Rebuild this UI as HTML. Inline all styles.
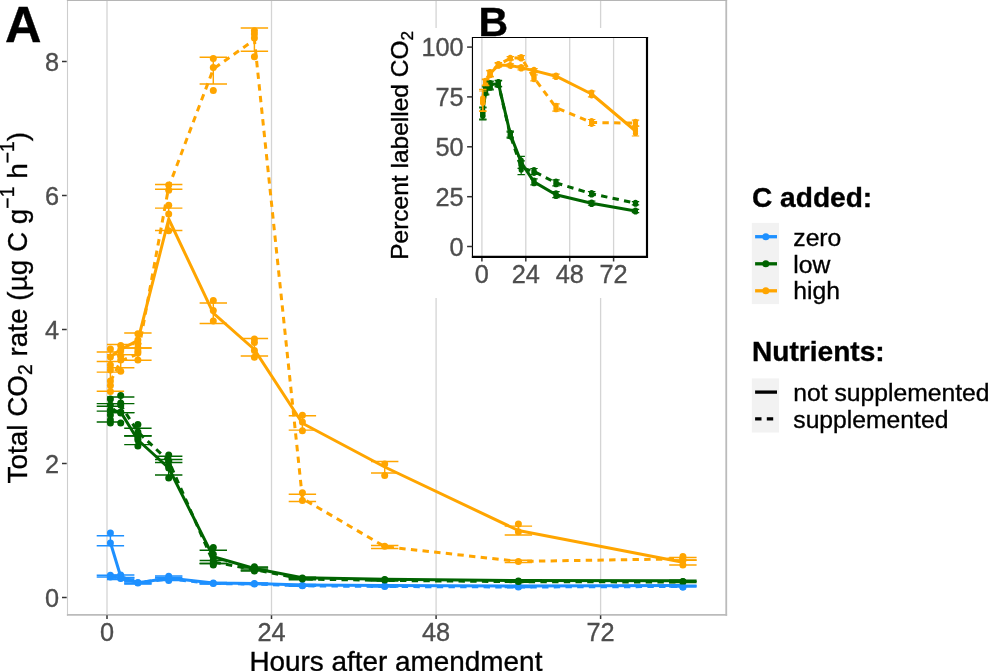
<!DOCTYPE html>
<html><head><meta charset="utf-8"><title>Figure</title>
<style>
html,body{margin:0;padding:0;background:#fff;}
body{width:989px;height:671px;overflow:hidden;}
svg{display:block;font-family:"Liberation Sans",sans-serif;will-change:transform;}
text{stroke-width:0.35px;paint-order:stroke;}
text.k{stroke:#000;}
text.g{stroke:#4d4d4d;}
</style></head><body>
<svg width="989" height="671" viewBox="0 0 989 671">
<rect width="989" height="671" fill="#fff"/>
<line x1="107.0" x2="107.0" y1="0.6" y2="614.7" stroke="#d4d4d4" stroke-width="1.3"/>
<line x1="271.5" x2="271.5" y1="0.6" y2="614.7" stroke="#d4d4d4" stroke-width="1.3"/>
<line x1="436.1" x2="436.1" y1="0.6" y2="614.7" stroke="#d4d4d4" stroke-width="1.3"/>
<line x1="600.6" x2="600.6" y1="0.6" y2="614.7" stroke="#d4d4d4" stroke-width="1.3"/>
<path d="M110.4 542.5 L120.7 576.5 L137.9 583.1 L168.7 578.0 L213.3 583.1 L254.4 583.6 L302.4 584.9 L384.7 585.6 L518.4 586.1 L682.9 585.6" fill="none" stroke="#1E90FF" stroke-width="3.00" stroke-linejoin="round"/>
<path d="M110.4 576.0 L120.7 578.5 L137.9 582.5 L168.7 579.0 L213.3 583.5 L254.4 584.0 L302.4 585.8 L384.7 586.5 L518.4 587.0 L682.9 586.5" fill="none" stroke="#1E90FF" stroke-width="3.00" stroke-linejoin="round" stroke-dasharray="6.4 5.3" stroke-dashoffset="0.00"/>
<path d="M110.4 410.0 L120.7 412.0 L137.9 440.0 L168.7 468.0 L213.3 556.8 L254.4 568.5 L302.4 577.8 L384.7 579.2 L518.4 580.5 L682.9 580.7" fill="none" stroke="#006400" stroke-width="3.00" stroke-linejoin="round"/>
<path d="M110.4 413.0 L120.7 405.0 L137.9 432.0 L168.7 461.0 L213.3 562.0 L254.4 569.5 L302.4 579.0 L384.7 580.4 L518.4 581.7 L682.9 582.0" fill="none" stroke="#006400" stroke-width="3.00" stroke-linejoin="round" stroke-dasharray="6.4 5.3" stroke-dashoffset="0.00"/>
<path d="M110.4 356.7 L120.7 349.5 L137.9 340.4 L168.7 219.0 L213.3 313.1 L254.4 349.5 L302.4 423.3 L384.7 467.0 L518.4 530.5 L682.9 562.2" fill="none" stroke="#FFA500" stroke-width="3.00" stroke-linejoin="round"/>
<path d="M110.4 381.7 L120.7 361.0 L137.9 354.0 L168.7 187.0 L213.3 69.0 L254.4 39.7 L302.4 498.5 L384.7 546.6 L518.4 561.4 L682.9 558.8" fill="none" stroke="#FFA500" stroke-width="3.00" stroke-linejoin="round" stroke-dasharray="6.4 5.3" stroke-dashoffset="0.00"/>
<circle cx="110.4" cy="533.1" r="3.5" fill="#1E90FF"/>
<circle cx="110.4" cy="543.1" r="3.5" fill="#1E90FF"/>
<circle cx="120.7" cy="575.0" r="3.5" fill="#1E90FF"/>
<circle cx="120.7" cy="578.0" r="3.5" fill="#1E90FF"/>
<circle cx="137.9" cy="583.0" r="3.5" fill="#1E90FF"/>
<circle cx="168.7" cy="576.3" r="3.5" fill="#1E90FF"/>
<circle cx="168.7" cy="579.0" r="3.5" fill="#1E90FF"/>
<circle cx="213.3" cy="583.1" r="3.5" fill="#1E90FF"/>
<circle cx="254.4" cy="583.6" r="3.5" fill="#1E90FF"/>
<circle cx="302.4" cy="585.4" r="3.5" fill="#1E90FF"/>
<circle cx="384.7" cy="586.0" r="3.5" fill="#1E90FF"/>
<circle cx="518.4" cy="586.5" r="3.5" fill="#1E90FF"/>
<circle cx="682.9" cy="587.0" r="3.5" fill="#1E90FF"/>
<circle cx="110.4" cy="575.2" r="3.5" fill="#1E90FF"/>
<circle cx="110.4" cy="577.0" r="3.5" fill="#1E90FF"/>
<circle cx="120.7" cy="578.5" r="3.5" fill="#1E90FF"/>
<circle cx="137.9" cy="582.5" r="3.5" fill="#1E90FF"/>
<circle cx="168.7" cy="580.5" r="3.5" fill="#1E90FF"/>
<circle cx="213.3" cy="583.5" r="3.5" fill="#1E90FF"/>
<circle cx="254.4" cy="584.0" r="3.5" fill="#1E90FF"/>
<circle cx="302.4" cy="585.8" r="3.5" fill="#1E90FF"/>
<circle cx="384.7" cy="586.5" r="3.5" fill="#1E90FF"/>
<circle cx="518.4" cy="587.0" r="3.5" fill="#1E90FF"/>
<circle cx="682.9" cy="587.0" r="3.5" fill="#1E90FF"/>
<circle cx="110.4" cy="399.0" r="3.5" fill="#006400"/>
<circle cx="110.4" cy="410.0" r="3.5" fill="#006400"/>
<circle cx="110.4" cy="420.0" r="3.5" fill="#006400"/>
<circle cx="120.7" cy="403.0" r="3.5" fill="#006400"/>
<circle cx="120.7" cy="412.0" r="3.5" fill="#006400"/>
<circle cx="120.7" cy="423.0" r="3.5" fill="#006400"/>
<circle cx="137.9" cy="434.0" r="3.5" fill="#006400"/>
<circle cx="137.9" cy="440.0" r="3.5" fill="#006400"/>
<circle cx="137.9" cy="446.0" r="3.5" fill="#006400"/>
<circle cx="168.7" cy="461.0" r="3.5" fill="#006400"/>
<circle cx="168.7" cy="468.0" r="3.5" fill="#006400"/>
<circle cx="168.7" cy="478.0" r="3.5" fill="#006400"/>
<circle cx="213.3" cy="547.6" r="3.5" fill="#006400"/>
<circle cx="213.3" cy="554.2" r="3.5" fill="#006400"/>
<circle cx="213.3" cy="565.0" r="3.5" fill="#006400"/>
<circle cx="254.4" cy="566.8" r="3.5" fill="#006400"/>
<circle cx="254.4" cy="570.0" r="3.5" fill="#006400"/>
<circle cx="302.4" cy="578.0" r="3.5" fill="#006400"/>
<circle cx="384.7" cy="579.4" r="3.5" fill="#006400"/>
<circle cx="518.4" cy="581.0" r="3.5" fill="#006400"/>
<circle cx="682.9" cy="581.4" r="3.5" fill="#006400"/>
<circle cx="110.4" cy="405.0" r="3.5" fill="#006400"/>
<circle cx="110.4" cy="415.0" r="3.5" fill="#006400"/>
<circle cx="110.4" cy="423.0" r="3.5" fill="#006400"/>
<circle cx="120.7" cy="395.4" r="3.5" fill="#006400"/>
<circle cx="120.7" cy="405.0" r="3.5" fill="#006400"/>
<circle cx="120.7" cy="413.0" r="3.5" fill="#006400"/>
<circle cx="137.9" cy="424.5" r="3.5" fill="#006400"/>
<circle cx="137.9" cy="432.0" r="3.5" fill="#006400"/>
<circle cx="137.9" cy="438.0" r="3.5" fill="#006400"/>
<circle cx="168.7" cy="455.0" r="3.5" fill="#006400"/>
<circle cx="168.7" cy="461.0" r="3.5" fill="#006400"/>
<circle cx="168.7" cy="466.0" r="3.5" fill="#006400"/>
<circle cx="213.3" cy="560.0" r="3.5" fill="#006400"/>
<circle cx="213.3" cy="562.0" r="3.5" fill="#006400"/>
<circle cx="213.3" cy="564.0" r="3.5" fill="#006400"/>
<circle cx="254.4" cy="568.0" r="3.5" fill="#006400"/>
<circle cx="254.4" cy="571.0" r="3.5" fill="#006400"/>
<circle cx="302.4" cy="579.0" r="3.5" fill="#006400"/>
<circle cx="384.7" cy="580.0" r="3.5" fill="#006400"/>
<circle cx="518.4" cy="581.5" r="3.5" fill="#006400"/>
<circle cx="682.9" cy="581.8" r="3.5" fill="#006400"/>
<circle cx="110.4" cy="349.0" r="3.5" fill="#FFA500"/>
<circle cx="110.4" cy="357.0" r="3.5" fill="#FFA500"/>
<circle cx="110.4" cy="365.0" r="3.5" fill="#FFA500"/>
<circle cx="120.7" cy="345.6" r="3.5" fill="#FFA500"/>
<circle cx="120.7" cy="350.0" r="3.5" fill="#FFA500"/>
<circle cx="120.7" cy="355.8" r="3.5" fill="#FFA500"/>
<circle cx="137.9" cy="333.7" r="3.5" fill="#FFA500"/>
<circle cx="137.9" cy="340.0" r="3.5" fill="#FFA500"/>
<circle cx="137.9" cy="343.8" r="3.5" fill="#FFA500"/>
<circle cx="137.9" cy="351.0" r="3.5" fill="#FFA500"/>
<circle cx="168.7" cy="205.2" r="3.5" fill="#FFA500"/>
<circle cx="168.7" cy="214.1" r="3.5" fill="#FFA500"/>
<circle cx="168.7" cy="230.8" r="3.5" fill="#FFA500"/>
<circle cx="213.3" cy="300.6" r="3.5" fill="#FFA500"/>
<circle cx="213.3" cy="310.4" r="3.5" fill="#FFA500"/>
<circle cx="213.3" cy="321.0" r="3.5" fill="#FFA500"/>
<circle cx="254.4" cy="339.0" r="3.5" fill="#FFA500"/>
<circle cx="254.4" cy="342.6" r="3.5" fill="#FFA500"/>
<circle cx="254.4" cy="350.6" r="3.5" fill="#FFA500"/>
<circle cx="254.4" cy="357.2" r="3.5" fill="#FFA500"/>
<circle cx="302.4" cy="415.2" r="3.5" fill="#FFA500"/>
<circle cx="302.4" cy="422.0" r="3.5" fill="#FFA500"/>
<circle cx="302.4" cy="430.7" r="3.5" fill="#FFA500"/>
<circle cx="384.7" cy="464.0" r="3.5" fill="#FFA500"/>
<circle cx="384.7" cy="475.5" r="3.5" fill="#FFA500"/>
<circle cx="518.4" cy="523.9" r="3.5" fill="#FFA500"/>
<circle cx="518.4" cy="531.7" r="3.5" fill="#FFA500"/>
<circle cx="682.9" cy="560.0" r="3.5" fill="#FFA500"/>
<circle cx="682.9" cy="565.0" r="3.5" fill="#FFA500"/>
<circle cx="110.4" cy="370.0" r="3.5" fill="#FFA500"/>
<circle cx="110.4" cy="381.0" r="3.5" fill="#FFA500"/>
<circle cx="110.4" cy="385.5" r="3.5" fill="#FFA500"/>
<circle cx="110.4" cy="391.5" r="3.5" fill="#FFA500"/>
<circle cx="120.7" cy="355.8" r="3.5" fill="#FFA500"/>
<circle cx="120.7" cy="360.0" r="3.5" fill="#FFA500"/>
<circle cx="120.7" cy="371.3" r="3.5" fill="#FFA500"/>
<circle cx="137.9" cy="348.0" r="3.5" fill="#FFA500"/>
<circle cx="137.9" cy="353.0" r="3.5" fill="#FFA500"/>
<circle cx="137.9" cy="360.0" r="3.5" fill="#FFA500"/>
<circle cx="168.7" cy="184.9" r="3.5" fill="#FFA500"/>
<circle cx="168.7" cy="190.3" r="3.5" fill="#FFA500"/>
<circle cx="213.3" cy="58.4" r="3.5" fill="#FFA500"/>
<circle cx="213.3" cy="67.4" r="3.5" fill="#FFA500"/>
<circle cx="213.3" cy="90.6" r="3.5" fill="#FFA500"/>
<circle cx="254.4" cy="30.7" r="3.5" fill="#FFA500"/>
<circle cx="254.4" cy="34.0" r="3.5" fill="#FFA500"/>
<circle cx="254.4" cy="37.9" r="3.5" fill="#FFA500"/>
<circle cx="254.4" cy="56.7" r="3.5" fill="#FFA500"/>
<circle cx="302.4" cy="492.7" r="3.5" fill="#FFA500"/>
<circle cx="302.4" cy="500.4" r="3.5" fill="#FFA500"/>
<circle cx="384.7" cy="546.2" r="3.5" fill="#FFA500"/>
<circle cx="518.4" cy="561.4" r="3.5" fill="#FFA500"/>
<circle cx="682.9" cy="556.5" r="3.5" fill="#FFA500"/>
<circle cx="682.9" cy="560.0" r="3.5" fill="#FFA500"/>
<path d="M96.7 535.8H124.1M96.7 545.8H124.1M110.4 535.8V545.8" fill="none" stroke="#1E90FF" stroke-width="1.45"/>
<path d="M107.0 575.0H134.4M107.0 578.0H134.4M120.7 575.0V578.0" fill="none" stroke="#1E90FF" stroke-width="1.45"/>
<path d="M124.2 582.0H151.6M124.2 584.0H151.6M137.9 582.0V584.0" fill="none" stroke="#1E90FF" stroke-width="1.45"/>
<path d="M155.0 576.0H182.4M155.0 579.0H182.4M168.7 576.0V579.0" fill="none" stroke="#1E90FF" stroke-width="1.45"/>
<path d="M199.6 582.5H227.0M199.6 583.7H227.0M213.3 582.5V583.7" fill="none" stroke="#1E90FF" stroke-width="1.45"/>
<path d="M240.7 583.0H268.1M240.7 584.0H268.1M254.4 583.0V584.0" fill="none" stroke="#1E90FF" stroke-width="1.45"/>
<path d="M288.7 584.4H316.1M288.7 585.4H316.1M302.4 584.4V585.4" fill="none" stroke="#1E90FF" stroke-width="1.45"/>
<path d="M371.0 585.1H398.4M371.0 586.1H398.4M384.7 585.1V586.1" fill="none" stroke="#1E90FF" stroke-width="1.45"/>
<path d="M504.7 585.6H532.1M504.7 586.6H532.1M518.4 585.6V586.6" fill="none" stroke="#1E90FF" stroke-width="1.45"/>
<path d="M669.2 585.1H696.6M669.2 586.1H696.6M682.9 585.1V586.1" fill="none" stroke="#1E90FF" stroke-width="1.45"/>
<path d="M96.7 575.3H124.1M96.7 577.0H124.1M110.4 575.3V577.0" fill="none" stroke="#1E90FF" stroke-width="1.45"/>
<path d="M107.0 577.5H134.4M107.0 579.5H134.4M120.7 577.5V579.5" fill="none" stroke="#1E90FF" stroke-width="1.45"/>
<path d="M124.2 581.5H151.6M124.2 583.5H151.6M137.9 581.5V583.5" fill="none" stroke="#1E90FF" stroke-width="1.45"/>
<path d="M155.0 577.5H182.4M155.0 580.5H182.4M168.7 577.5V580.5" fill="none" stroke="#1E90FF" stroke-width="1.45"/>
<path d="M199.6 583.0H227.0M199.6 584.0H227.0M213.3 583.0V584.0" fill="none" stroke="#1E90FF" stroke-width="1.45"/>
<path d="M240.7 583.5H268.1M240.7 584.5H268.1M254.4 583.5V584.5" fill="none" stroke="#1E90FF" stroke-width="1.45"/>
<path d="M288.7 585.3H316.1M288.7 586.3H316.1M302.4 585.3V586.3" fill="none" stroke="#1E90FF" stroke-width="1.45"/>
<path d="M371.0 586.0H398.4M371.0 587.0H398.4M384.7 586.0V587.0" fill="none" stroke="#1E90FF" stroke-width="1.45"/>
<path d="M504.7 586.5H532.1M504.7 587.5H532.1M518.4 586.5V587.5" fill="none" stroke="#1E90FF" stroke-width="1.45"/>
<path d="M669.2 586.0H696.6M669.2 587.0H696.6M682.9 586.0V587.0" fill="none" stroke="#1E90FF" stroke-width="1.45"/>
<path d="M96.7 403.6H124.1M96.7 411.1H124.1M110.4 403.6V411.1" fill="none" stroke="#006400" stroke-width="1.45"/>
<path d="M107.0 403.6H134.4M107.0 412.6H134.4M120.7 403.6V412.6" fill="none" stroke="#006400" stroke-width="1.45"/>
<path d="M124.2 435.7H151.6M124.2 444.6H151.6M137.9 435.7V444.6" fill="none" stroke="#006400" stroke-width="1.45"/>
<path d="M155.0 462.5H182.4M155.0 474.9H182.4M168.7 462.5V474.9" fill="none" stroke="#006400" stroke-width="1.45"/>
<path d="M199.6 550.2H227.0M199.6 563.4H227.0M213.3 550.2V563.4" fill="none" stroke="#006400" stroke-width="1.45"/>
<path d="M240.7 567.0H268.1M240.7 570.0H268.1M254.4 567.0V570.0" fill="none" stroke="#006400" stroke-width="1.45"/>
<path d="M288.7 577.1H316.1M288.7 578.5H316.1M302.4 577.1V578.5" fill="none" stroke="#006400" stroke-width="1.45"/>
<path d="M371.0 578.6H398.4M371.0 579.8H398.4M384.7 578.6V579.8" fill="none" stroke="#006400" stroke-width="1.45"/>
<path d="M504.7 580.0H532.1M504.7 581.0H532.1M518.4 580.0V581.0" fill="none" stroke="#006400" stroke-width="1.45"/>
<path d="M669.2 580.2H696.6M669.2 581.2H696.6M682.9 580.2V581.2" fill="none" stroke="#006400" stroke-width="1.45"/>
<path d="M96.7 406.2H124.1M96.7 422.0H124.1M110.4 406.2V422.0" fill="none" stroke="#006400" stroke-width="1.45"/>
<path d="M107.0 396.9H134.4M107.0 412.6H134.4M120.7 396.9V412.6" fill="none" stroke="#006400" stroke-width="1.45"/>
<path d="M124.2 428.2H151.6M124.2 436.0H151.6M137.9 428.2V436.0" fill="none" stroke="#006400" stroke-width="1.45"/>
<path d="M155.0 456.2H182.4M155.0 459.5H182.4M168.7 456.2V459.5" fill="none" stroke="#006400" stroke-width="1.45"/>
<path d="M199.6 560.5H227.0M199.6 563.5H227.0M213.3 560.5V563.5" fill="none" stroke="#006400" stroke-width="1.45"/>
<path d="M240.7 568.0H268.1M240.7 571.0H268.1M254.4 568.0V571.0" fill="none" stroke="#006400" stroke-width="1.45"/>
<path d="M288.7 578.3H316.1M288.7 579.7H316.1M302.4 578.3V579.7" fill="none" stroke="#006400" stroke-width="1.45"/>
<path d="M371.0 579.8H398.4M371.0 581.0H398.4M384.7 579.8V581.0" fill="none" stroke="#006400" stroke-width="1.45"/>
<path d="M504.7 581.2H532.1M504.7 582.2H532.1M518.4 581.2V582.2" fill="none" stroke="#006400" stroke-width="1.45"/>
<path d="M669.2 581.5H696.6M669.2 582.5H696.6M682.9 581.5V582.5" fill="none" stroke="#006400" stroke-width="1.45"/>
<path d="M96.7 351.9H124.1M96.7 361.5H124.1M110.4 351.9V361.5" fill="none" stroke="#FFA500" stroke-width="1.45"/>
<path d="M107.0 344.4H134.4M107.0 354.6H134.4M120.7 344.4V354.6" fill="none" stroke="#FFA500" stroke-width="1.45"/>
<path d="M124.2 332.9H151.6M124.2 348.0H151.6M137.9 332.9V348.0" fill="none" stroke="#FFA500" stroke-width="1.45"/>
<path d="M155.0 208.1H182.4M155.0 230.5H182.4M168.7 208.1V230.5" fill="none" stroke="#FFA500" stroke-width="1.45"/>
<path d="M199.6 302.9H227.0M199.6 323.4H227.0M213.3 302.9V323.4" fill="none" stroke="#FFA500" stroke-width="1.45"/>
<path d="M240.7 338.5H268.1M240.7 356.0H268.1M254.4 338.5V356.0" fill="none" stroke="#FFA500" stroke-width="1.45"/>
<path d="M288.7 415.8H316.1M288.7 430.1H316.1M302.4 415.8V430.1" fill="none" stroke="#FFA500" stroke-width="1.45"/>
<path d="M371.0 461.5H398.4M371.0 472.9H398.4M384.7 461.5V472.9" fill="none" stroke="#FFA500" stroke-width="1.45"/>
<path d="M504.7 526.1H532.1M504.7 535.0H532.1M518.4 526.1V535.0" fill="none" stroke="#FFA500" stroke-width="1.45"/>
<path d="M669.2 560.0H696.6M669.2 564.9H696.6M682.9 560.0V564.9" fill="none" stroke="#FFA500" stroke-width="1.45"/>
<path d="M96.7 372.1H124.1M96.7 391.3H124.1M110.4 372.1V391.3" fill="none" stroke="#FFA500" stroke-width="1.45"/>
<path d="M107.0 354.6H134.4M107.0 367.7H134.4M120.7 354.6V367.7" fill="none" stroke="#FFA500" stroke-width="1.45"/>
<path d="M124.2 348.0H151.6M124.2 360.2H151.6M137.9 348.0V360.2" fill="none" stroke="#FFA500" stroke-width="1.45"/>
<path d="M155.0 184.5H182.4M155.0 189.3H182.4M168.7 184.5V189.3" fill="none" stroke="#FFA500" stroke-width="1.45"/>
<path d="M199.6 57.2H227.0M199.6 84.0H227.0M213.3 57.2V84.0" fill="none" stroke="#FFA500" stroke-width="1.45"/>
<path d="M240.7 28.0H268.1M240.7 51.3H268.1M254.4 28.0V51.3" fill="none" stroke="#FFA500" stroke-width="1.45"/>
<path d="M288.7 494.2H316.1M288.7 501.4H316.1M302.4 494.2V501.4" fill="none" stroke="#FFA500" stroke-width="1.45"/>
<path d="M371.0 545.5H398.4M371.0 548.5H398.4M384.7 545.5V548.5" fill="none" stroke="#FFA500" stroke-width="1.45"/>
<path d="M504.7 560.3H532.1M504.7 562.5H532.1M518.4 560.3V562.5" fill="none" stroke="#FFA500" stroke-width="1.45"/>
<path d="M669.2 557.5H696.6M669.2 560.3H696.6M682.9 557.5V560.3" fill="none" stroke="#FFA500" stroke-width="1.45"/>
<line x1="67.5" x2="67.5" y1="0" y2="615.7" stroke="#cdcdcd" stroke-width="1.1"/>
<line x1="726.25" x2="726.25" y1="0" y2="615.7" stroke="#bbbbbb" stroke-width="1.8"/>
<line x1="66.9" x2="727.1" y1="0.5" y2="0.5" stroke="#b5b5b5" stroke-width="1.0"/>
<line x1="66.9" x2="727.1" y1="614.9" y2="614.9" stroke="#bbbbbb" stroke-width="1.7"/>
<line x1="62" x2="66.7" y1="597.5" y2="597.5" stroke="#333" stroke-width="1.5"/>
<text x="59" y="606.6" text-anchor="end" font-size="25.3" fill="#4d4d4d" class="g">0</text>
<line x1="62" x2="66.7" y1="463.5" y2="463.5" stroke="#333" stroke-width="1.5"/>
<text x="59" y="472.6" text-anchor="end" font-size="25.3" fill="#4d4d4d" class="g">2</text>
<line x1="62" x2="66.7" y1="329.5" y2="329.5" stroke="#333" stroke-width="1.5"/>
<text x="59" y="338.6" text-anchor="end" font-size="25.3" fill="#4d4d4d" class="g">4</text>
<line x1="62" x2="66.7" y1="195.5" y2="195.5" stroke="#333" stroke-width="1.5"/>
<text x="59" y="204.6" text-anchor="end" font-size="25.3" fill="#4d4d4d" class="g">6</text>
<line x1="62" x2="66.7" y1="61.5" y2="61.5" stroke="#333" stroke-width="1.5"/>
<text x="59" y="70.6" text-anchor="end" font-size="25.3" fill="#4d4d4d" class="g">8</text>
<line x1="107.0" x2="107.0" y1="615.3" y2="619" stroke="#333" stroke-width="1.5"/>
<text x="107.0" y="641" text-anchor="middle" font-size="25.3" fill="#4d4d4d" class="g">0</text>
<line x1="271.5" x2="271.5" y1="615.3" y2="619" stroke="#333" stroke-width="1.5"/>
<text x="271.5" y="641" text-anchor="middle" font-size="25.3" fill="#4d4d4d" class="g">24</text>
<line x1="436.1" x2="436.1" y1="615.3" y2="619" stroke="#333" stroke-width="1.5"/>
<text x="436.1" y="641" text-anchor="middle" font-size="25.3" fill="#4d4d4d" class="g">48</text>
<line x1="600.6" x2="600.6" y1="615.3" y2="619" stroke="#333" stroke-width="1.5"/>
<text x="600.6" y="641" text-anchor="middle" font-size="25.3" fill="#4d4d4d" class="g">72</text>
<text x="395.9" y="670.5" text-anchor="middle" font-size="27.9" fill="#000" class="k">Hours after amendment</text>
<text transform="translate(26.9 483.5) rotate(-90)" font-size="27.9" fill="#000" class="k">Total CO<tspan font-size="19.4" dy="5">2</tspan><tspan dy="-5"> rate (µg C g</tspan><tspan font-size="19.4" dy="-12.5">−1</tspan><tspan dy="12.5"> h</tspan><tspan font-size="19.4" dy="-12.5">−1</tspan><tspan dy="12.5">)</tspan></text>
<text x="5" y="41.5" font-size="50.5" font-weight="bold" fill="#000" class="k">A</text>
<rect x="385" y="28" width="275" height="270" fill="#fff"/>
<line x1="481.9" x2="481.9" y1="37.5" y2="256.9" stroke="#d4d4d4" stroke-width="1.3"/>
<line x1="525.8" x2="525.8" y1="37.5" y2="256.9" stroke="#d4d4d4" stroke-width="1.3"/>
<line x1="569.7" x2="569.7" y1="37.5" y2="256.9" stroke="#d4d4d4" stroke-width="1.3"/>
<line x1="613.6" x2="613.6" y1="37.5" y2="256.9" stroke="#d4d4d4" stroke-width="1.3"/>
<path d="M482.8 113.1 L485.6 90.2 L490.1 85.0 L498.4 83.4 L510.3 134.2 L521.2 162.4 L534.0 181.9 L556.0 194.7 L591.6 203.2 L635.5 211.0" fill="none" stroke="#006400" stroke-width="3.00" stroke-linejoin="round"/>
<path d="M482.8 113.9 L485.6 91.0 L490.1 85.8 L498.4 83.8 L510.3 135.2 L521.2 167.7 L534.0 171.5 L556.0 182.9 L591.6 193.7 L635.5 203.2" fill="none" stroke="#006400" stroke-width="3.00" stroke-linejoin="round" stroke-dasharray="6.4 5.3" stroke-dashoffset="0.00"/>
<path d="M482.8 100.3 L485.6 82.6 L490.1 73.8 L498.4 65.0 L510.3 65.4 L521.2 67.8 L534.0 70.6 L556.0 76.2 L591.6 94.0 L635.5 131.0" fill="none" stroke="#FFA500" stroke-width="3.00" stroke-linejoin="round"/>
<path d="M482.8 100.9 L485.6 82.2 L490.1 73.4 L498.4 64.6 L510.3 58.3 L521.2 57.7 L534.0 77.8 L556.0 107.5 L591.6 122.5 L635.5 123.1" fill="none" stroke="#FFA500" stroke-width="3.00" stroke-linejoin="round" stroke-dasharray="6.4 5.3" stroke-dashoffset="0.00"/>
<circle cx="482.8" cy="115.5" r="2.6" fill="#006400"/>
<circle cx="482.8" cy="110.7" r="2.6" fill="#006400"/>
<circle cx="482.8" cy="113.1" r="2.6" fill="#006400"/>
<circle cx="485.6" cy="92.6" r="2.6" fill="#006400"/>
<circle cx="485.6" cy="87.8" r="2.6" fill="#006400"/>
<circle cx="485.6" cy="90.2" r="2.6" fill="#006400"/>
<circle cx="490.1" cy="87.4" r="2.6" fill="#006400"/>
<circle cx="490.1" cy="82.6" r="2.6" fill="#006400"/>
<circle cx="490.1" cy="85.0" r="2.6" fill="#006400"/>
<circle cx="498.4" cy="85.2" r="2.6" fill="#006400"/>
<circle cx="498.4" cy="81.6" r="2.6" fill="#006400"/>
<circle cx="498.4" cy="83.4" r="2.6" fill="#006400"/>
<circle cx="510.3" cy="136.0" r="2.6" fill="#006400"/>
<circle cx="510.3" cy="132.4" r="2.6" fill="#006400"/>
<circle cx="510.3" cy="134.2" r="2.6" fill="#006400"/>
<circle cx="521.2" cy="164.7" r="2.6" fill="#006400"/>
<circle cx="521.2" cy="160.0" r="2.6" fill="#006400"/>
<circle cx="521.2" cy="162.4" r="2.6" fill="#006400"/>
<circle cx="534.0" cy="183.7" r="2.6" fill="#006400"/>
<circle cx="534.0" cy="180.1" r="2.6" fill="#006400"/>
<circle cx="534.0" cy="181.9" r="2.6" fill="#006400"/>
<circle cx="556.0" cy="196.5" r="2.6" fill="#006400"/>
<circle cx="556.0" cy="192.9" r="2.6" fill="#006400"/>
<circle cx="556.0" cy="194.7" r="2.6" fill="#006400"/>
<circle cx="591.6" cy="204.4" r="2.6" fill="#006400"/>
<circle cx="591.6" cy="202.0" r="2.6" fill="#006400"/>
<circle cx="591.6" cy="203.2" r="2.6" fill="#006400"/>
<circle cx="635.5" cy="212.0" r="2.6" fill="#006400"/>
<circle cx="635.5" cy="210.0" r="2.6" fill="#006400"/>
<circle cx="635.5" cy="211.0" r="2.6" fill="#006400"/>
<circle cx="482.8" cy="116.3" r="2.6" fill="#006400"/>
<circle cx="482.8" cy="111.5" r="2.6" fill="#006400"/>
<circle cx="482.8" cy="113.9" r="2.6" fill="#006400"/>
<circle cx="485.6" cy="93.4" r="2.6" fill="#006400"/>
<circle cx="485.6" cy="88.6" r="2.6" fill="#006400"/>
<circle cx="485.6" cy="91.0" r="2.6" fill="#006400"/>
<circle cx="490.1" cy="88.2" r="2.6" fill="#006400"/>
<circle cx="490.1" cy="83.4" r="2.6" fill="#006400"/>
<circle cx="490.1" cy="85.8" r="2.6" fill="#006400"/>
<circle cx="498.4" cy="85.6" r="2.6" fill="#006400"/>
<circle cx="498.4" cy="82.0" r="2.6" fill="#006400"/>
<circle cx="498.4" cy="83.8" r="2.6" fill="#006400"/>
<circle cx="510.3" cy="137.0" r="2.6" fill="#006400"/>
<circle cx="510.3" cy="133.4" r="2.6" fill="#006400"/>
<circle cx="510.3" cy="135.2" r="2.6" fill="#006400"/>
<circle cx="521.2" cy="170.1" r="2.6" fill="#006400"/>
<circle cx="521.2" cy="165.3" r="2.6" fill="#006400"/>
<circle cx="521.2" cy="167.7" r="2.6" fill="#006400"/>
<circle cx="534.0" cy="173.3" r="2.6" fill="#006400"/>
<circle cx="534.0" cy="169.7" r="2.6" fill="#006400"/>
<circle cx="534.0" cy="171.5" r="2.6" fill="#006400"/>
<circle cx="556.0" cy="184.7" r="2.6" fill="#006400"/>
<circle cx="556.0" cy="181.1" r="2.6" fill="#006400"/>
<circle cx="556.0" cy="182.9" r="2.6" fill="#006400"/>
<circle cx="591.6" cy="194.9" r="2.6" fill="#006400"/>
<circle cx="591.6" cy="192.5" r="2.6" fill="#006400"/>
<circle cx="591.6" cy="193.7" r="2.6" fill="#006400"/>
<circle cx="635.5" cy="204.2" r="2.6" fill="#006400"/>
<circle cx="635.5" cy="202.3" r="2.6" fill="#006400"/>
<circle cx="635.5" cy="203.2" r="2.6" fill="#006400"/>
<circle cx="482.8" cy="102.7" r="2.6" fill="#FFA500"/>
<circle cx="482.8" cy="97.9" r="2.6" fill="#FFA500"/>
<circle cx="482.8" cy="100.3" r="2.6" fill="#FFA500"/>
<circle cx="485.6" cy="84.4" r="2.6" fill="#FFA500"/>
<circle cx="485.6" cy="80.8" r="2.6" fill="#FFA500"/>
<circle cx="485.6" cy="82.6" r="2.6" fill="#FFA500"/>
<circle cx="490.1" cy="75.6" r="2.6" fill="#FFA500"/>
<circle cx="490.1" cy="72.0" r="2.6" fill="#FFA500"/>
<circle cx="490.1" cy="73.8" r="2.6" fill="#FFA500"/>
<circle cx="498.4" cy="66.2" r="2.6" fill="#FFA500"/>
<circle cx="498.4" cy="63.8" r="2.6" fill="#FFA500"/>
<circle cx="498.4" cy="65.0" r="2.6" fill="#FFA500"/>
<circle cx="510.3" cy="66.4" r="2.6" fill="#FFA500"/>
<circle cx="510.3" cy="64.5" r="2.6" fill="#FFA500"/>
<circle cx="510.3" cy="65.4" r="2.6" fill="#FFA500"/>
<circle cx="521.2" cy="69.0" r="2.6" fill="#FFA500"/>
<circle cx="521.2" cy="66.6" r="2.6" fill="#FFA500"/>
<circle cx="521.2" cy="67.8" r="2.6" fill="#FFA500"/>
<circle cx="534.0" cy="71.8" r="2.6" fill="#FFA500"/>
<circle cx="534.0" cy="69.4" r="2.6" fill="#FFA500"/>
<circle cx="534.0" cy="70.6" r="2.6" fill="#FFA500"/>
<circle cx="556.0" cy="77.4" r="2.6" fill="#FFA500"/>
<circle cx="556.0" cy="75.0" r="2.6" fill="#FFA500"/>
<circle cx="556.0" cy="76.2" r="2.6" fill="#FFA500"/>
<circle cx="591.6" cy="95.8" r="2.6" fill="#FFA500"/>
<circle cx="591.6" cy="92.2" r="2.6" fill="#FFA500"/>
<circle cx="591.6" cy="94.0" r="2.6" fill="#FFA500"/>
<circle cx="635.5" cy="133.4" r="2.6" fill="#FFA500"/>
<circle cx="635.5" cy="128.7" r="2.6" fill="#FFA500"/>
<circle cx="635.5" cy="131.0" r="2.6" fill="#FFA500"/>
<circle cx="482.8" cy="103.3" r="2.6" fill="#FFA500"/>
<circle cx="482.8" cy="98.5" r="2.6" fill="#FFA500"/>
<circle cx="482.8" cy="100.9" r="2.6" fill="#FFA500"/>
<circle cx="485.6" cy="84.0" r="2.6" fill="#FFA500"/>
<circle cx="485.6" cy="80.4" r="2.6" fill="#FFA500"/>
<circle cx="485.6" cy="82.2" r="2.6" fill="#FFA500"/>
<circle cx="490.1" cy="75.2" r="2.6" fill="#FFA500"/>
<circle cx="490.1" cy="71.6" r="2.6" fill="#FFA500"/>
<circle cx="490.1" cy="73.4" r="2.6" fill="#FFA500"/>
<circle cx="498.4" cy="65.8" r="2.6" fill="#FFA500"/>
<circle cx="498.4" cy="63.5" r="2.6" fill="#FFA500"/>
<circle cx="498.4" cy="64.6" r="2.6" fill="#FFA500"/>
<circle cx="510.3" cy="59.2" r="2.6" fill="#FFA500"/>
<circle cx="510.3" cy="57.3" r="2.6" fill="#FFA500"/>
<circle cx="510.3" cy="58.3" r="2.6" fill="#FFA500"/>
<circle cx="521.2" cy="58.9" r="2.6" fill="#FFA500"/>
<circle cx="521.2" cy="56.5" r="2.6" fill="#FFA500"/>
<circle cx="521.2" cy="57.7" r="2.6" fill="#FFA500"/>
<circle cx="534.0" cy="79.6" r="2.6" fill="#FFA500"/>
<circle cx="534.0" cy="76.0" r="2.6" fill="#FFA500"/>
<circle cx="534.0" cy="77.8" r="2.6" fill="#FFA500"/>
<circle cx="556.0" cy="109.7" r="2.6" fill="#FFA500"/>
<circle cx="556.0" cy="105.4" r="2.6" fill="#FFA500"/>
<circle cx="556.0" cy="107.5" r="2.6" fill="#FFA500"/>
<circle cx="591.6" cy="124.3" r="2.6" fill="#FFA500"/>
<circle cx="591.6" cy="120.7" r="2.6" fill="#FFA500"/>
<circle cx="591.6" cy="122.5" r="2.6" fill="#FFA500"/>
<circle cx="635.5" cy="124.9" r="2.6" fill="#FFA500"/>
<circle cx="635.5" cy="121.3" r="2.6" fill="#FFA500"/>
<circle cx="635.5" cy="123.1" r="2.6" fill="#FFA500"/>
<path d="M479.1 107.1H486.5M479.1 119.1H486.5M482.8 107.1V119.1" fill="none" stroke="#006400" stroke-width="1.20"/>
<path d="M481.9 86.2H489.3M481.9 94.2H489.3M485.6 86.2V94.2" fill="none" stroke="#006400" stroke-width="1.20"/>
<path d="M486.4 81.0H493.8M486.4 89.0H493.8M490.1 81.0V89.0" fill="none" stroke="#006400" stroke-width="1.20"/>
<path d="M494.7 80.4H502.1M494.7 86.4H502.1M498.4 80.4V86.4" fill="none" stroke="#006400" stroke-width="1.20"/>
<path d="M506.6 131.2H514.0M506.6 137.2H514.0M510.3 131.2V137.2" fill="none" stroke="#006400" stroke-width="1.20"/>
<path d="M517.5 156.4H524.9M517.5 168.3H524.9M521.2 156.4V168.3" fill="none" stroke="#006400" stroke-width="1.20"/>
<path d="M530.3 178.9H537.7M530.3 184.9H537.7M534.0 178.9V184.9" fill="none" stroke="#006400" stroke-width="1.20"/>
<path d="M552.3 191.7H559.7M552.3 197.6H559.7M556.0 191.7V197.6" fill="none" stroke="#006400" stroke-width="1.20"/>
<path d="M587.9 201.2H595.4M587.9 205.2H595.4M591.6 201.2V205.2" fill="none" stroke="#006400" stroke-width="1.20"/>
<path d="M631.8 209.4H639.2M631.8 212.6H639.2M635.5 209.4V212.6" fill="none" stroke="#006400" stroke-width="1.20"/>
<path d="M479.1 107.9H486.5M479.1 119.9H486.5M482.8 107.9V119.9" fill="none" stroke="#006400" stroke-width="1.20"/>
<path d="M481.9 87.0H489.3M481.9 95.0H489.3M485.6 87.0V95.0" fill="none" stroke="#006400" stroke-width="1.20"/>
<path d="M486.4 81.8H493.8M486.4 89.8H493.8M490.1 81.8V89.8" fill="none" stroke="#006400" stroke-width="1.20"/>
<path d="M494.7 80.8H502.1M494.7 86.8H502.1M498.4 80.8V86.8" fill="none" stroke="#006400" stroke-width="1.20"/>
<path d="M506.6 132.2H514.0M506.6 138.2H514.0M510.3 132.2V138.2" fill="none" stroke="#006400" stroke-width="1.20"/>
<path d="M517.5 160.8H524.9M517.5 174.7H524.9M521.2 160.8V174.7" fill="none" stroke="#006400" stroke-width="1.20"/>
<path d="M530.3 168.5H537.7M530.3 174.5H537.7M534.0 168.5V174.5" fill="none" stroke="#006400" stroke-width="1.20"/>
<path d="M552.3 179.9H559.7M552.3 185.9H559.7M556.0 179.9V185.9" fill="none" stroke="#006400" stroke-width="1.20"/>
<path d="M587.9 191.7H595.4M587.9 195.7H595.4M591.6 191.7V195.7" fill="none" stroke="#006400" stroke-width="1.20"/>
<path d="M631.8 201.6H639.2M631.8 204.8H639.2M635.5 201.6V204.8" fill="none" stroke="#006400" stroke-width="1.20"/>
<path d="M479.1 89.4H486.5M479.1 111.3H486.5M482.8 89.4V111.3" fill="none" stroke="#FFA500" stroke-width="1.20"/>
<path d="M481.9 79.6H489.3M481.9 85.6H489.3M485.6 79.6V85.6" fill="none" stroke="#FFA500" stroke-width="1.20"/>
<path d="M486.4 70.8H493.8M486.4 76.8H493.8M490.1 70.8V76.8" fill="none" stroke="#FFA500" stroke-width="1.20"/>
<path d="M494.7 63.1H502.1M494.7 67.0H502.1M498.4 63.1V67.0" fill="none" stroke="#FFA500" stroke-width="1.20"/>
<path d="M506.6 63.8H514.0M506.6 67.0H514.0M510.3 63.8V67.0" fill="none" stroke="#FFA500" stroke-width="1.20"/>
<path d="M517.5 65.8H524.9M517.5 69.8H524.9M521.2 65.8V69.8" fill="none" stroke="#FFA500" stroke-width="1.20"/>
<path d="M530.3 68.6H537.7M530.3 72.6H537.7M534.0 68.6V72.6" fill="none" stroke="#FFA500" stroke-width="1.20"/>
<path d="M552.3 74.2H559.7M552.3 78.2H559.7M556.0 74.2V78.2" fill="none" stroke="#FFA500" stroke-width="1.20"/>
<path d="M587.9 91.0H595.4M587.9 96.9H595.4M591.6 91.0V96.9" fill="none" stroke="#FFA500" stroke-width="1.20"/>
<path d="M631.8 126.1H639.2M631.8 136.0H639.2M635.5 126.1V136.0" fill="none" stroke="#FFA500" stroke-width="1.20"/>
<path d="M479.1 91.0H486.5M479.1 110.9H486.5M482.8 91.0V110.9" fill="none" stroke="#FFA500" stroke-width="1.20"/>
<path d="M481.9 79.2H489.3M481.9 85.2H489.3M485.6 79.2V85.2" fill="none" stroke="#FFA500" stroke-width="1.20"/>
<path d="M486.4 70.4H493.8M486.4 76.4H493.8M490.1 70.4V76.4" fill="none" stroke="#FFA500" stroke-width="1.20"/>
<path d="M494.7 62.7H502.1M494.7 66.6H502.1M498.4 62.7V66.6" fill="none" stroke="#FFA500" stroke-width="1.20"/>
<path d="M506.6 56.7H514.0M506.6 59.9H514.0M510.3 56.7V59.9" fill="none" stroke="#FFA500" stroke-width="1.20"/>
<path d="M517.5 55.7H524.9M517.5 59.7H524.9M521.2 55.7V59.7" fill="none" stroke="#FFA500" stroke-width="1.20"/>
<path d="M530.3 74.8H537.7M530.3 80.8H537.7M534.0 74.8V80.8" fill="none" stroke="#FFA500" stroke-width="1.20"/>
<path d="M552.3 103.9H559.7M552.3 111.1H559.7M556.0 103.9V111.1" fill="none" stroke="#FFA500" stroke-width="1.20"/>
<path d="M587.9 119.5H595.4M587.9 125.5H595.4M591.6 119.5V125.5" fill="none" stroke="#FFA500" stroke-width="1.20"/>
<path d="M631.8 120.1H639.2M631.8 126.1H639.2M635.5 120.1V126.1" fill="none" stroke="#FFA500" stroke-width="1.20"/>
<path d="M472.45 258V37.5H648.1" fill="none" stroke="#000" stroke-width="1.15"/>
<path d="M471.9 256.9H647.0V36.9" fill="none" stroke="#000" stroke-width="2.15"/>
<line x1="467.1" x2="472.4" y1="246.5" y2="246.5" stroke="#333" stroke-width="1.5"/>
<text x="463.7" y="255.6" text-anchor="end" font-size="25.3" fill="#4d4d4d" class="g">0</text>
<line x1="467.1" x2="472.4" y1="196.7" y2="196.7" stroke="#333" stroke-width="1.5"/>
<text x="463.7" y="205.8" text-anchor="end" font-size="25.3" fill="#4d4d4d" class="g">25</text>
<line x1="467.1" x2="472.4" y1="146.8" y2="146.8" stroke="#333" stroke-width="1.5"/>
<text x="463.7" y="155.9" text-anchor="end" font-size="25.3" fill="#4d4d4d" class="g">50</text>
<line x1="467.1" x2="472.4" y1="96.9" y2="96.9" stroke="#333" stroke-width="1.5"/>
<text x="463.7" y="106.0" text-anchor="end" font-size="25.3" fill="#4d4d4d" class="g">75</text>
<line x1="467.1" x2="472.4" y1="47.1" y2="47.1" stroke="#333" stroke-width="1.5"/>
<text x="463.7" y="56.2" text-anchor="end" font-size="25.3" fill="#4d4d4d" class="g">100</text>
<line x1="481.9" x2="481.9" y1="257.9" y2="261.5" stroke="#333" stroke-width="1.5"/>
<text x="481.9" y="283" text-anchor="middle" font-size="25.3" fill="#4d4d4d" class="g">0</text>
<line x1="525.8" x2="525.8" y1="257.9" y2="261.5" stroke="#333" stroke-width="1.5"/>
<text x="525.8" y="283" text-anchor="middle" font-size="25.3" fill="#4d4d4d" class="g">24</text>
<line x1="569.7" x2="569.7" y1="257.9" y2="261.5" stroke="#333" stroke-width="1.5"/>
<text x="569.7" y="283" text-anchor="middle" font-size="25.3" fill="#4d4d4d" class="g">48</text>
<line x1="613.6" x2="613.6" y1="257.9" y2="261.5" stroke="#333" stroke-width="1.5"/>
<text x="613.6" y="283" text-anchor="middle" font-size="25.3" fill="#4d4d4d" class="g">72</text>
<text transform="translate(408.2 259.8) rotate(-90)" font-size="24.5" fill="#000" class="k">Percent labelled CO<tspan font-size="17.2" dy="4.5">2</tspan></text>
<text x="478.5" y="36.0" font-size="41" font-weight="bold" fill="#000" class="k">B</text>
<text x="752" y="207" font-size="28.1" font-weight="bold" fill="#000" class="k">C added:</text>
<rect x="751.8" y="222.9" width="27.2" height="81.2" fill="#f2f2f2"/>
<line x1="755.1" x2="777" y1="236.7" y2="236.7" stroke="#1E90FF" stroke-width="3.3"/>
<circle cx="765.8" cy="236.7" r="3.5" fill="#1E90FF"/>
<text x="793.3" y="245.6" font-size="24.7" fill="#000" class="k">zero</text>
<line x1="755.1" x2="777" y1="263.8" y2="263.8" stroke="#006400" stroke-width="3.3"/>
<circle cx="765.8" cy="263.8" r="3.5" fill="#006400"/>
<text x="793.3" y="272.5" font-size="24.7" fill="#000" class="k">low</text>
<line x1="755.1" x2="777" y1="290.8" y2="290.8" stroke="#FFA500" stroke-width="3.3"/>
<circle cx="765.8" cy="290.8" r="3.5" fill="#FFA500"/>
<text x="793.3" y="299.4" font-size="24.7" fill="#000" class="k">high</text>
<text x="752" y="361" font-size="28.1" font-weight="bold" fill="#000" class="k">Nutrients:</text>
<rect x="751.8" y="378.4" width="27.2" height="54.1" fill="#f2f2f2"/>
<line x1="755.1" x2="777" y1="392.1" y2="392.1" stroke="#000" stroke-width="3.3"/>
<line x1="755.1" x2="777" y1="418.9" y2="418.9" stroke="#000" stroke-width="3.3" stroke-dasharray="6.4 5.3"/>
<text x="793.3" y="400.9" font-size="24.7" fill="#000" class="k">not supplemented</text>
<text x="793.3" y="428.0" font-size="24.7" fill="#000" class="k">supplemented</text>
</svg>
</body></html>
